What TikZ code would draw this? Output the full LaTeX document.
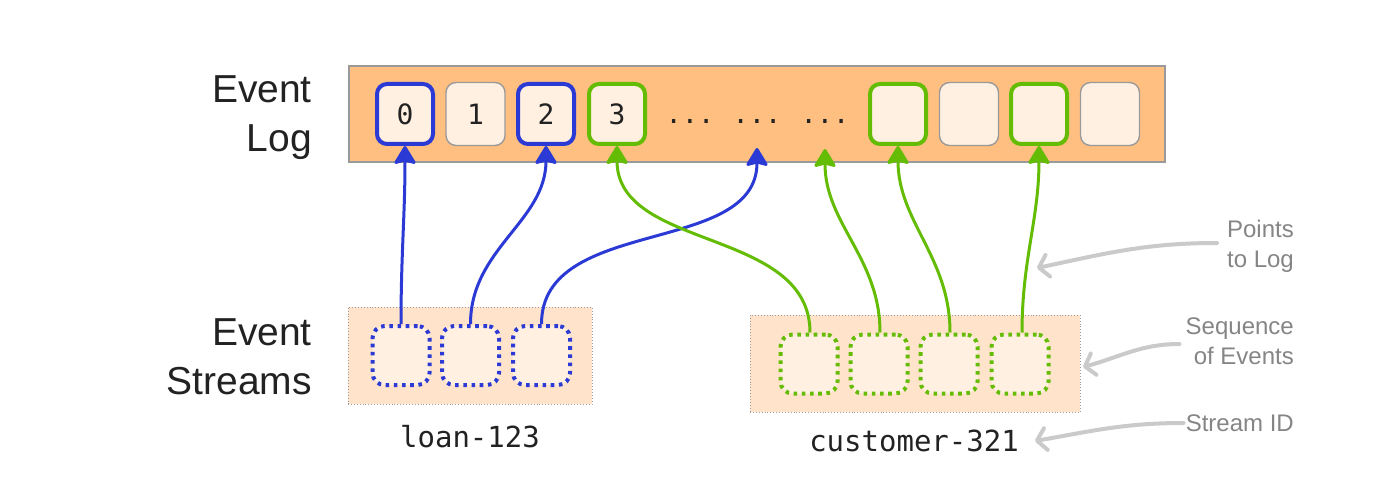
\documentclass[tikz,border=0pt]{standalone}
\usepackage{fontspec}
\setmainfont{Liberation Sans}
\newfontfamily\monofont{DejaVu Sans Mono}
\usetikzlibrary{arrows.meta}

\definecolor{logfill}{HTML}{FFBF80}
\definecolor{cellfill}{HTML}{FFF0E2}
\definecolor{streamfill}{HTML}{FFE4CB}
\definecolor{evblue}{HTML}{2B3AD4}
\definecolor{evgreen}{HTML}{64BC05}
\definecolor{notetext}{HTML}{858585}
\definecolor{notearrow}{HTML}{CACACA}
\definecolor{ink}{HTML}{222222}
\definecolor{frame}{HTML}{9A9A9A}

\tikzset{
  biglabel/.style={text=ink, align=right, inner sep=0pt,
    font=\fontsize{39pt}{49pt}\selectfont},
  note/.style={text=notetext, align=right, inner sep=0pt,
    font=\fontsize{24pt}{30pt}\selectfont},
  idlabel/.style={text=ink, inner sep=0pt, font=\monofont\fontsize{29pt}{29pt}\selectfont},
  logbar/.style={draw=frame, line width=1.2pt, fill=logfill},
  streambox/.style={draw=frame, dotted, line width=0.9pt, fill=streamfill},
  logcell/.style={draw=frame, line width=1.4pt, fill=cellfill, rounded corners=10pt,
    minimum width=59pt, minimum height=63pt, inner sep=0pt, text=ink,
    font=\monofont\fontsize{28pt}{28pt}\selectfont},
  hit/.style={logcell, draw=#1, line width=4pt, minimum width=56pt, minimum height=60pt},
  streamcell/.style={draw=#1, fill=cellfill, line width=4pt,
    dash pattern=on 3.6pt off 4.6pt, rounded corners=12pt,
    minimum width=57pt, minimum height=59pt, inner sep=0pt},
  dots/.style={text=ink, inner sep=0pt, font=\monofont\fontsize{27pt}{27pt}\selectfont},
  link/.style={draw=#1, line width=3pt,
    -{Stealth[inset=3pt, width=24pt, length=20pt, round]}},
  pointer/.style={draw=notearrow, line width=4pt, line cap=round,
    -{Straight Barb[length=9pt,width=22pt,round]}},
}

\begin{document}
\begin{tikzpicture}[x=1pt, y=-1pt]
  \useasboundingbox (0,0) rectangle (1395,497);

  % ---- event log -------------------------------------------------------
  \node[biglabel, anchor=east] (loglabel) at (312,117.5) {Event\\Log};
  \node[logbar, minimum width=816pt, minimum height=96pt, inner sep=0pt] (log) at (757,114) {};

  \node[hit=evblue]    (c0) at (405,114)   {0};
  \node[logcell]       (c1) at (475.5,114) {1};
  \node[hit=evblue]    (c2) at (546,114)   {2};
  \node[hit=evgreen]   (c3) at (617,114)   {3};
  \node[dots, anchor=base] (d1) at (690,124) {...};
  \node[dots, anchor=base] (d2) at (757,124) {...};
  \node[dots, anchor=base] (d3) at (825,124) {...};
  \node[hit=evgreen]   (c4) at (898,114)   {};
  \node[logcell]       (c5) at (969,114)   {};
  \node[hit=evgreen]   (c6) at (1039,114)  {};
  \node[logcell]       (c7) at (1110,114)  {};

  \coordinate (d2tip) at (757,148);
  \coordinate (d3tip) at (825,149);

  % ---- event streams ---------------------------------------------------
  \node[biglabel, anchor=east] (streamlabel) at (312,357) {Event\\Streams};

  \node[streambox, minimum width=244pt, minimum height=97pt, inner sep=0pt] (loanbox) at (470,355.5) {};
  \node[streamcell=evblue] (s1) at (401,355.5)   {};
  \node[streamcell=evblue] (s2) at (470.5,355.5) {};
  \node[streamcell=evblue] (s3) at (541.5,355.5) {};
  \node[idlabel] (loanid) at (470,437) {loan-123};

  \node[streambox, minimum width=330pt, minimum height=97pt, inner sep=0pt] (custbox) at (915,363.5) {};
  \node[streamcell=evgreen] (g1) at (809,364)  {};
  \node[streamcell=evgreen] (g2) at (879,364)  {};
  \node[streamcell=evgreen] (g3) at (949,364)  {};
  \node[streamcell=evgreen] (g4) at (1020,364) {};
  \node[idlabel] (custid) at (914,441) {customer-321};

  % ---- stream entries point into the log -------------------------------
  \draw[link=evblue] (s1.north) to[out=90, in=-90] (c0.south);
  \draw[link=evblue] (s2.north) to[out=90, in=-90] (c2.south);
  \draw[link=evblue] (s3.north) to[out=90, in=-90] (d2tip);

  \draw[link=evgreen] ([xshift=1pt]g1.north) to[out=90, in=-90] (c3.south);
  \draw[link=evgreen] ([xshift=1pt]g2.north) to[out=90, in=-90] (d3tip);
  \draw[link=evgreen] ([xshift=1pt]g3.north) to[out=90, in=-90] (c4.south);
  \draw[link=evgreen] ([xshift=2pt]g4.north) to[out=90, in=-90] (c6.south);

  % ---- annotations -----------------------------------------------------
  \node[note, anchor=east] (ptslog) at (1294,246) {Points\\to Log};
  \node[note, anchor=east] (seqev)  at (1294,341) {Sequence\\of Events};
  \node[note, anchor=east] (sid)    at (1294,423) {Stream ID};

  \coordinate (ptstip) at (1037,268);
  \coordinate (seqtip) at (1083,367);
  \coordinate (sidtip) at (1035,441);

  \draw[pointer] (1217,243) to[out=180, in=12] (ptstip);
  \draw[pointer] ([xshift=-6pt, yshift=-3pt]seqev.west) to[out=180, in=15] (seqtip);
  \draw[pointer] ([xshift=-2pt]sid.west) to[out=180, in=10] (sidtip);
\end{tikzpicture}
\end{document}
